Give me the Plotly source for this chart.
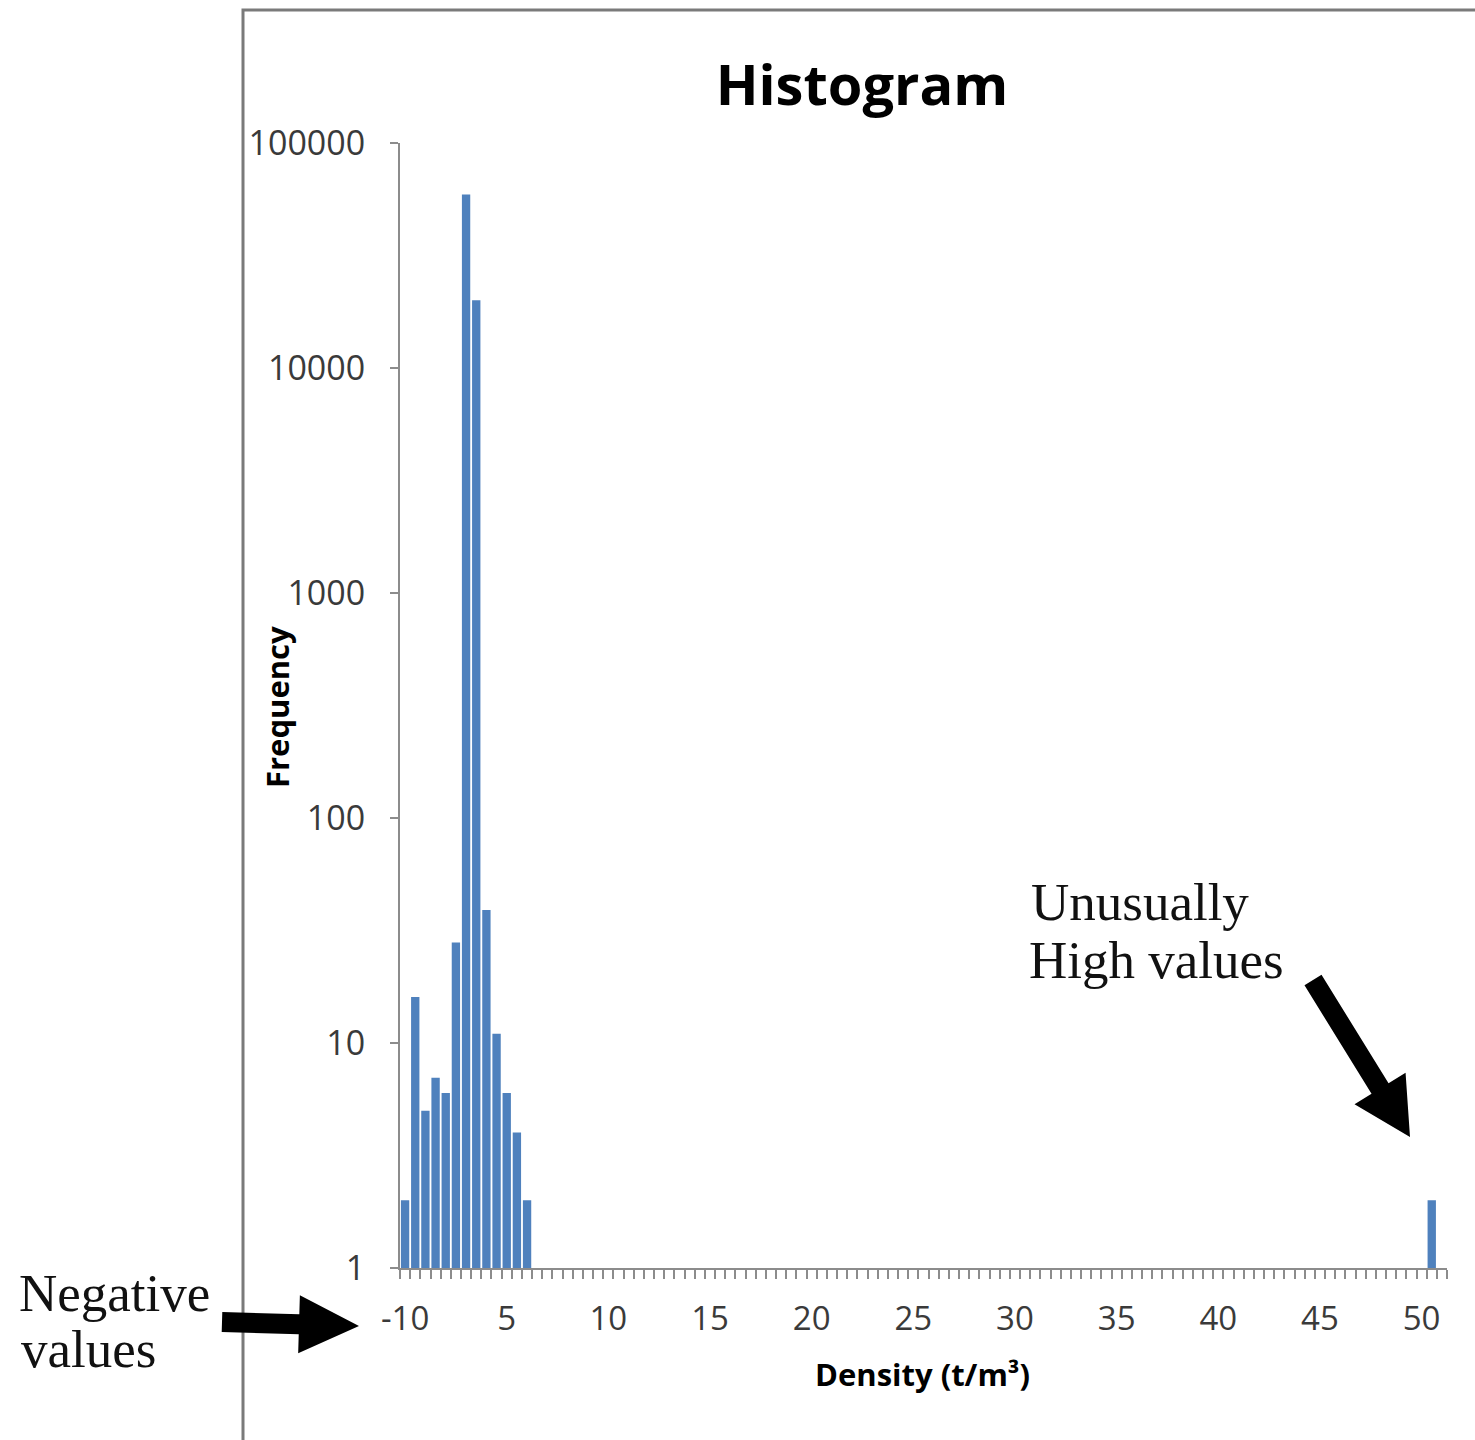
import plotly.graph_objects as go

# ---------------- data ----------------
# histogram bins (0.5 t/m3 wide); the first bin collects the negative values
bin_labels = ["-10"] + [f"{k * 0.5:g}" for k in range(1, 103)]
# observed frequencies of the occupied bins
low_bins = ["-10", "0.5", "1", "1.5", "2", "2.5", "3", "3.5", "4", "4.5", "5", "5.5", "6"]
low_freq = [2, 16, 5, 7, 6, 28, 59000, 20000, 39, 11, 6, 4, 2]
high_bins = ["50.5"]
high_freq = [2]
# axis tick labels
x_tick_labels = {"-10": "-10", "5": "5", "10": "10", "15": "15", "20": "20", "25": "25",
                 "30": "30", "35": "35", "40": "40", "45": "45", "50": "50"}
y_tick_vals = [1, 10, 100, 1000, 10000, 100000]
y_tick_text = ["1", "10", "100", "1000", "10000", "100000"]

# ---------------- layout helpers (pixels -> paper) ----------------
FIG_W, FIG_H = 1475, 1440
L, R, T, B = 400, 1447, 143, 1268
PW, PH = R - L, B - T


def px(x):
    return (x - L) / PW


def py(y):
    return (B - y) / PH


def arrow_path(tail, tip, body_half, head_half, head_len):
    import math
    dx, dy = tip[0] - tail[0], tip[1] - tail[1]
    n = math.hypot(dx, dy)
    ux, uy = dx / n, dy / n
    vx, vy = -uy, ux
    bx, by = tip[0] - ux * head_len, tip[1] - uy * head_len
    pts = [
        (tail[0] + vx * body_half, tail[1] + vy * body_half),
        (bx + vx * body_half, by + vy * body_half),
        (bx + vx * head_half, by + vy * head_half),
        tip,
        (bx - vx * head_half, by - vy * head_half),
        (bx - vx * body_half, by - vy * body_half),
        (tail[0] - vx * body_half, tail[1] - vy * body_half),
    ]
    return "M " + " L ".join(f"{px(a):.5f},{py(b):.5f}" for a, b in pts) + " Z"


fig = go.Figure()
fig.add_trace(go.Bar(
    x=low_bins + high_bins,
    y=low_freq + high_freq,
    marker=dict(color="#4F81BD", line=dict(width=0)),
    showlegend=False,
))

tick_color = "#8c8c8c"
label_color = "#3a3a3a"
sans = "Open Sans"

fig.update_layout(
    width=FIG_W, height=FIG_H,
    margin=dict(l=L, r=FIG_W - R, t=T, b=FIG_H - B, autoexpand=False),
    paper_bgcolor="white", plot_bgcolor="white",
    bargap=0.18,
    title=dict(text="<b>Histogram</b>", x=px(862), xref="paper", xanchor="center",
               y=1 - 85 / FIG_H, yref="container", yanchor="middle",
               font=dict(family=sans, size=56, color="#000000")),
    xaxis=dict(
        type="category", categoryorder="array", categoryarray=bin_labels,
        range=[-0.5, len(bin_labels) - 0.5],
        tickmode="array", tickvals=bin_labels,
        ticktext=[x_tick_labels.get(b, "") for b in bin_labels],
        tickangle=0,
        tickson="boundaries", ticks="outside", ticklen=9, tickwidth=2, tickcolor=tick_color,
        showline=True, linecolor=tick_color, linewidth=2,
        showgrid=False, zeroline=False, automargin=False,
        tickfont=dict(family=sans, size=33, color=label_color),
        ticklabelstandoff=20,
    ),
    yaxis=dict(
        type="log", range=[0, 5],
        tickmode="array", tickvals=y_tick_vals, ticktext=y_tick_text,
        ticks="outside", ticklen=8, tickwidth=2, tickcolor=tick_color,
        showline=True, linecolor=tick_color, linewidth=2,
        showgrid=False, zeroline=False, automargin=False,
        tickfont=dict(family=sans, size=34, color=label_color),
        ticklabelstandoff=18,
    ),
)

# axis titles
fig.add_annotation(text="<b>Frequency</b>", textangle=-90, x=px(277), y=py(707),
                   xref="paper", yref="paper", showarrow=False, xanchor="center", yanchor="middle",
                   font=dict(family=sans, size=31, color="#000000"))
fig.add_annotation(text="<b>Density (t/m³)</b>", x=px(922), y=py(1374),
                   xref="paper", yref="paper", showarrow=False, xanchor="center", yanchor="middle",
                   font=dict(family=sans, size=31, color="#000000"))

# serif call-outs
serif = dict(family="Liberation Serif", size=53, color="#111111")
for txt, x, y in [("Negative", 17, 1293), ("values", 19, 1349),
                  ("Unusually", 1029, 902), ("High values", 1027, 960)]:
    fig.add_annotation(text=txt, x=px(x), y=py(y), xref="paper", yref="paper",
                       showarrow=False, xanchor="left", yanchor="middle", font=serif)

# frame of the chart area
fig.add_shape(type="rect", xref="paper", yref="paper",
              x0=px(243), y0=py(10), x1=px(1490), y1=py(1460),
              line=dict(color="#7a7a7a", width=3), fillcolor="rgba(0,0,0,0)", layer="below")

# arrows
fig.add_shape(type="path", xref="paper", yref="paper",
              path=arrow_path((222, 1322), (359, 1326), 10, 29, 60),
              fillcolor="#000000", line=dict(width=0))
fig.add_shape(type="path", xref="paper", yref="paper",
              path=arrow_path((1313, 980), (1410, 1137), 10, 30, 57),
              fillcolor="#000000", line=dict(width=0))

fig.write_html("out.html")
